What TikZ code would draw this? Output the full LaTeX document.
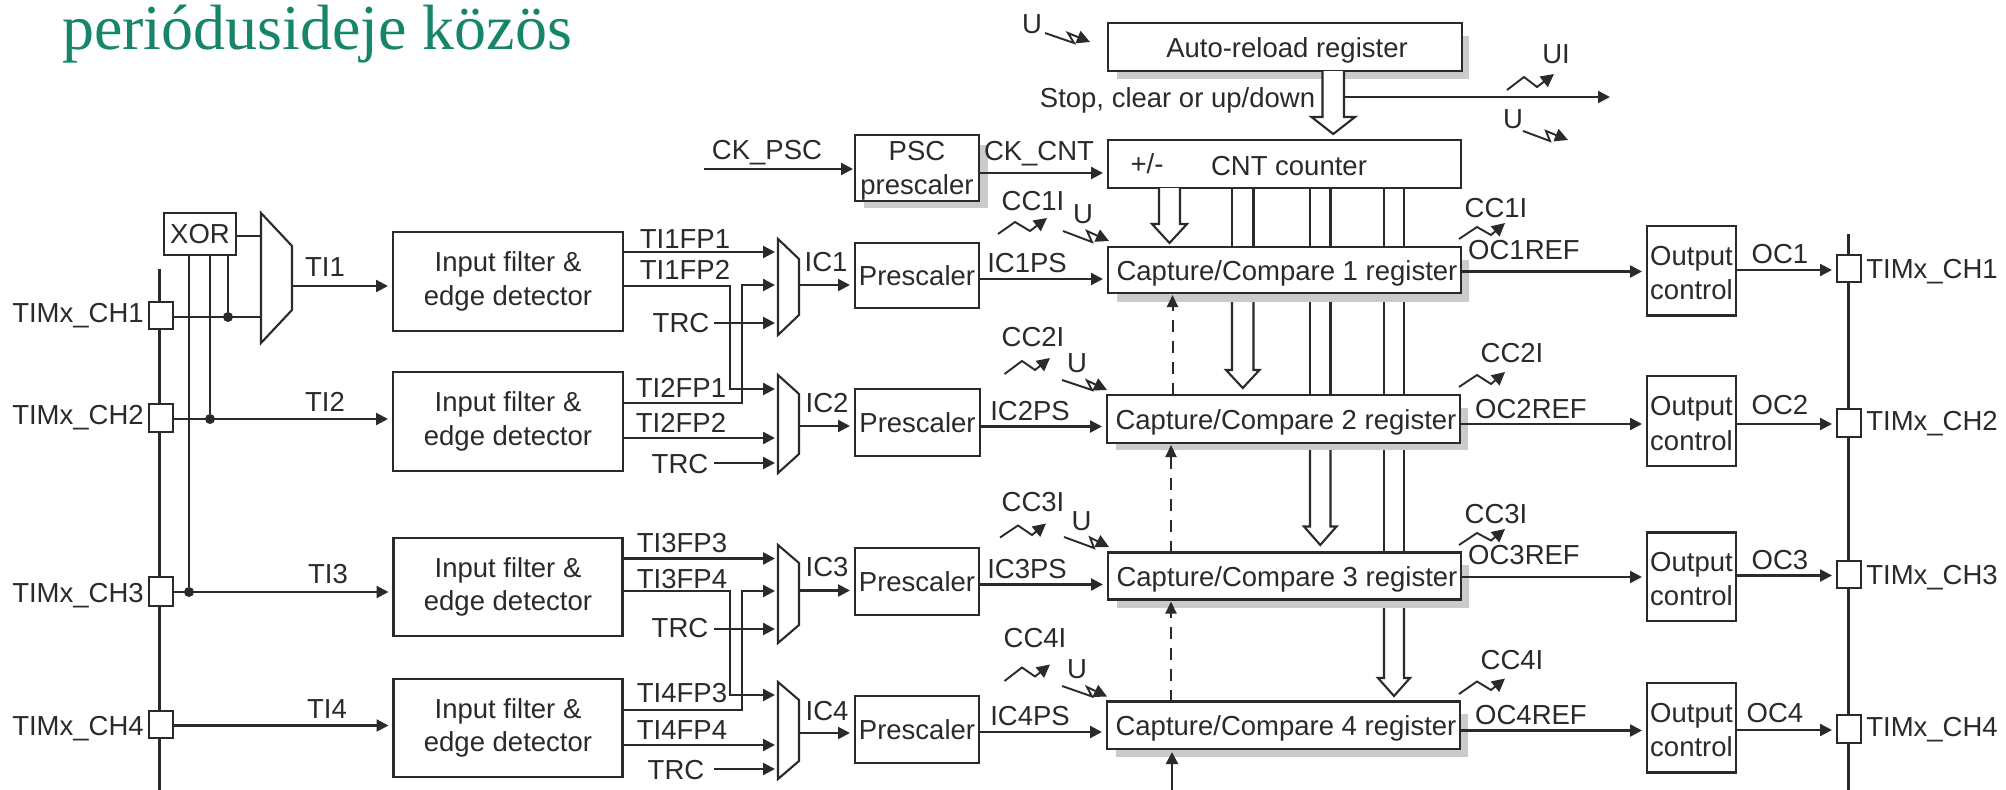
\documentclass[tikz,border=0pt]{standalone}
\usepackage{fontspec}
\setmainfont{Liberation Sans}
\newfontfamily\titlefont{Liberation Serif}
\usetikzlibrary{arrows.meta,calc}
\definecolor{ink}{HTML}{2A2A2A}
\definecolor{shade}{HTML}{CBCBCB}
\definecolor{titlegreen}{HTML}{16856A}
\tikzset{
  x=1pt,y=-1pt,
  every node/.style={font=\fontsize{27.5}{33.5}\selectfont,text=ink,inner sep=0pt,outer sep=0pt},
  box/.style={draw=ink,line width=2.6pt,fill=white,align=center},
  one/.style={text height=20pt,text depth=0pt},
  lab/.style={text height=20pt,text depth=0pt,anchor=center},
  wire/.style={draw=ink,line width=2.3pt,-{Triangle[length=12pt,width=12pt]},shorten >=5pt},
  muxin/.style={wire,shorten >=3pt},
  plain/.style={draw=ink,line width=2.1pt},
  hollow/.style={draw=ink,line width=2.1pt,fill=white,line join=miter},
  dashwire/.style={draw=ink,line width=2pt,dash pattern=on 12pt off 9pt,-{Triangle[length=12pt,width=11pt]},shorten >=2pt},
  spark/.style={draw=ink,line width=1.9pt,-{Triangle[length=13pt,width=13pt]}},
  dot/.style={circle,fill=ink,minimum size=10pt},
  shadowfill/.style={fill=shade,draw=none},
  ghost/.style={draw=none,fill=none}
}
\newcommand{\rbox}[7][]{\node[box,#1,minimum width={#5-#3},minimum height={#6-#4}] (#2) at ({(#3+#5)/2},{(#4+#6)/2}) {#7};}
\newcommand{\lab}[4]{\node[lab] (#1) at (#2,#3) {#4};}
\newcommand{\dn}[1]{\rule{0pt}{#1pt}}
\newcommand{\mux}[6]{% name x1 y1 x2 y2 slant
  \node[ghost,minimum width={#4-#2},minimum height={#5-#3}] (#1) at ({(#2+#4)/2},{(#3+#5)/2}) {};
  \draw[plain,line join=miter,fill=white] (#1.north west) -- ($(#1.north east)+(0,#6)$) -- ($(#1.south east)+(0,-#6)$) -- (#1.south west) -- cycle;}
% x1 x2 ystart yneck ytip wing
\newcommand{\harrow}[6]{\draw[hollow] (#1,#3) -- (#1,#4) -- ({#1-#6},#4) -- ({(#1+#2)/2},#5) -- ({#2+#6},#4) -- (#2,#4) -- (#2,#3);}
\begin{document}
\begin{tikzpicture}
\useasboundingbox (0,0) rectangle (2006,790);
\fill[white] (0,0) rectangle (2006,790);
\node[font=\titlefont\fontsize{64}{70}\selectfont,text=titlegreen,anchor=base west] (title) at (62,49) {periódusideje közös};

% shadows
\fill[shadowfill] (1117,36) rectangle (1469,79);
\fill[shadowfill] (864,145) rectangle (988,208);
\fill[shadowfill] (1117,260) rectangle (1469,302);
\fill[shadowfill] (1116,408) rectangle (1468,450);
\fill[shadowfill] (1117,565) rectangle (1469,608);
\fill[shadowfill] (1116,714) rectangle (1468,757);

% free ends and buses
\coordinate (busLtop) at (159.5,269);
\coordinate (busLbot) at (159.5,790);
\coordinate (busRtop) at (1848.5,234);
\coordinate (busRbot) at (1848.5,790);
\coordinate (ckin) at (704,169);
\coordinate (uiout) at (1615,97);
\coordinate (capin) at (1172,790);
\draw[plain] (busLtop) -- (busLbot);
\draw[plain] (busRtop) -- (busRbot);

% main boxes
\rbox[one]{arr}{1108}{23}{1462}{71}{\hspace*{4pt}Auto-reload register}
\rbox{cnt}{1108}{140}{1461}{188}{}
\rbox{psc}{855}{135}{979}{201}{\dn{25}PSC\\prescaler}
\rbox[one]{cc1}{1108}{247}{1461}{293}{\hspace*{5pt}Capture/Compare 1 register}
\rbox[one]{cc2}{1107}{395}{1460}{443}{\hspace*{5pt}Capture/Compare 2 register}
\rbox[one]{cc3}{1108}{552.5}{1461}{599.5}{\hspace*{5pt}Capture/Compare 3 register}
\rbox[one]{cc4}{1107}{701.5}{1460}{749}{\hspace*{5pt}Capture/Compare 4 register}
\lab{plusminus}{1147}{163}{+/-}
\lab{cntlabel}{1289}{165}{CNT counter}

\rbox{xor}{164}{213}{236}{255}{XOR}
\rbox{f1}{393}{232}{623}{331}{Input filter \&\\edge detector}
\rbox{f2}{393}{372}{623}{471}{Input filter \&\\edge detector}
\rbox{f3}{393.5}{538}{622.5}{636}{Input filter \&\\edge detector}
\rbox{f4}{393.5}{679}{622.5}{777}{Input filter \&\\edge detector}
\rbox[one]{p1}{855}{243}{979}{308}{Prescaler}
\rbox[one]{p2}{855}{389}{980}{456}{Prescaler}
\rbox[one]{p3}{855}{548}{979}{615}{Prescaler}
\rbox[one]{p4}{855}{696}{979}{763}{Prescaler}
\rbox{o1}{1647}{226}{1736}{315.5}{\dn{24}Output\\[1pt]control}
\rbox{o2}{1647}{376}{1736}{466}{\dn{24}Output\\[1pt]control}
\rbox{o3}{1647}{532.5}{1736}{621}{\dn{24}Output\\[1pt]control}
\rbox{o4}{1647}{683}{1736}{772.5}{\dn{24}Output\\[1pt]control}

% pads
\rbox{l1}{149}{302}{173}{329}{}
\rbox{l2}{149}{404}{173}{432}{}
\rbox{l3}{149}{577}{173}{606}{}
\rbox{l4}{149}{711}{173}{738}{}
\rbox{r1}{1837}{255}{1861}{282}{}
\rbox{r2}{1837}{409}{1861}{437}{}
\rbox{r3}{1837}{561}{1861}{588}{}
\rbox{r4}{1837}{715}{1861}{743}{}

% muxes
\mux{mx}{261}{213}{292}{343}{33}
\mux{m1}{778}{239}{799}{335}{20}
\mux{m2}{778}{375}{799}{473}{19}
\mux{m3}{778}{545}{799}{643}{18}
\mux{m4}{778}{682}{799}{779}{18}

% dots
\node[dot] (d1) at (228,317) {};
\node[dot] (d2) at (210,419) {};
\node[dot] (d3) at (189,592) {};

% XOR wiring
\draw[plain] (xor.south -| d3) -- (d3);
\draw[plain] (xor.south -| d2) -- (d2);
\draw[plain] (xor.south -| d1) -- (d1);
\draw[plain] (xor.east |- 0,236) -- (mx.west |- 0,236);
\draw[plain] (l1.east |- d1) -- (mx.west |- d1);
\draw[wire] (mx.east |- 0,286) -- (f1.west |- 0,286);
\draw[wire] (l2.east |- d2) -- (f2.west |- d2);
\draw[wire] (l3.east |- d3) -- (f3.west |- d3);
\draw[wire] (l4.east |- 0,725.5) -- (f4.west |- 0,725.5);

% filter to mux
\draw[muxin] (f1.east |- 0,252) -- (m1.west |- 0,252);
\draw[muxin] (f2.east |- 0,403) -- (742,403) -- (742,285) -- (m1.west |- 0,285);
\draw[muxin] (f1.east |- 0,286) -- (730,286) -- (730,389) -- (m2.west |- 0,389);
\draw[muxin] (f2.east |- 0,438) -- (m2.west |- 0,438);
\draw[muxin] (f3.east |- 0,558.5) -- (m3.west |- 0,558.5);
\draw[muxin] (f4.east |- 0,710) -- (742,710) -- (742,591) -- (m3.west |- 0,591);
\draw[muxin] (f3.east |- 0,591) -- (730,591) -- (730,695) -- (m4.west |- 0,695);
\draw[muxin] (f4.east |- 0,745) -- (m4.west |- 0,745);
\lab{trc1}{681}{322}{TRC}
\lab{trc2}{680}{463}{TRC}
\lab{trc3}{680}{627}{TRC}
\lab{trc4}{676}{769}{TRC}
\draw[muxin] (714,323) -- (m1.west |- 0,323);
\draw[muxin] (714,463) -- (m2.west |- 0,463);
\draw[muxin] (714,629) -- (m3.west |- 0,629);
\draw[muxin] (714,769) -- (m4.west |- 0,769);

% mux to prescaler to capture
\draw[wire] (m1.east |- 0,285) -- (p1.west |- 0,285);
\draw[wire] (m2.east |- 0,426) -- (p2.west |- 0,426);
\draw[wire] (m3.east |- 0,590.5) -- (p3.west |- 0,590.5);
\draw[wire] (m4.east |- 0,733) -- (p4.west |- 0,733);
\draw[wire] (p1.east |- 0,279) -- (cc1.west |- 0,279);
\draw[wire] (p2.east |- 0,426.5) -- (cc2.west |- 0,426.5);
\draw[wire] (p3.east |- 0,584.5) -- (cc3.west |- 0,584.5);
\draw[wire] (p4.east |- 0,732) -- (cc4.west |- 0,732);

% capture to output to pad
\draw[wire] (cc1.east |- 0,271.5) -- (o1.west |- 0,271.5);
\draw[wire] (cc2.east |- 0,424) -- (o2.west |- 0,424);
\draw[wire] (cc3.east |- 0,577) -- (o3.west |- 0,577);
\draw[wire] (cc4.east |- 0,730.5) -- (o4.west |- 0,730.5);
\draw[wire] (o1.east |- 0,270) -- (r1.west |- 0,270);
\draw[wire] (o2.east |- 0,424) -- (r2.west |- 0,424);
\draw[wire] (o3.east |- 0,575.5) -- (r3.west |- 0,575.5);
\draw[wire] (o4.east |- 0,730) -- (r4.west |- 0,730);

% clock
\draw[wire,shorten >=2pt] (ckin) -- (psc.west |- ckin);
\draw[wire] (psc.east |- 0,173) -- (cnt.west |- 0,173);

% update line
\draw[wire,shorten >=5pt] (1344,97) -- (uiout);

% hollow arrows and buses
\harrow{1322.5}{1344}{71}{117}{134}{11}
\harrow{1159}{1180}{188}{224}{243}{7}
\harrow{1232}{1253.5}{302}{370}{388}{6}
\harrow{1310}{1330.5}{450}{526.5}{545}{6}
\harrow{1384}{1404}{608}{678}{696}{6}
\foreach \xa in {1232,1253.5}{\draw[plain] (cnt.south -| \xa,0) -- (cc1.north -| \xa,0);}
\foreach \xa in {1310,1330.5}{
  \draw[plain] (cnt.south -| \xa,0) -- (cc1.north -| \xa,0);
  \draw[plain] (\xa,302) -- (cc2.north -| \xa,0);}
\foreach \xa in {1384,1404}{
  \draw[plain] (cnt.south -| \xa,0) -- (cc1.north -| \xa,0);
  \draw[plain] (\xa,302) -- (cc2.north -| \xa,0);
  \draw[plain] (\xa,450) -- (cc3.north -| \xa,0);}

% dashed
\draw[dashwire] (cc2.north -| 1172.5,0) -- (cc1.south -| 1172.5,0);
\draw[dashwire] (cc3.north -| 1171,0) -- (cc2.south -| 1171,0);
\draw[dashwire] (cc4.north -| 1171,0) -- (cc3.south -| 1171,0);
\draw[wire,shorten >=3pt] (capin) -- (cc4.south -| capin);

% sparks
\draw[spark] (1045,33) -- (1074,43) -- (1068,33) -- (1090,42);
\draw[spark] (998,234) -- (1015,222) -- (1030,231) -- (1047,218);
\draw[spark] (1063,231) -- (1092,242) -- (1087,231) -- (1109,241);
\draw[spark] (1004.5,374) -- (1022,361) -- (1035,370) -- (1050,358);
\draw[spark] (1062,380) -- (1092,390) -- (1087,380.5) -- (1107,390);
\draw[spark] (1000,537.5) -- (1018,525.5) -- (1032,535) -- (1046,523.5);
\draw[spark] (1064,537) -- (1094,548) -- (1090,537.5) -- (1109,547);
\draw[spark] (1004.5,681) -- (1022,667.5) -- (1035,676.5) -- (1050,664.5);
\draw[spark] (1062,686) -- (1092,696.5) -- (1087,687) -- (1107,696.5);
\draw[spark] (1459,239) -- (1477,227) -- (1491,235) -- (1505,223);
\draw[spark] (1459,387) -- (1477,375) -- (1491,384) -- (1505,372);
\draw[spark] (1459,545) -- (1477,533) -- (1491,540.5) -- (1505,529);
\draw[spark] (1459,694) -- (1477,681.5) -- (1491,690) -- (1505,678.5);
\draw[spark] (1507,90) -- (1524,77) -- (1537,87) -- (1554,74);
\draw[spark] (1523,131) -- (1550,141) -- (1546,131) -- (1568,140);

% labels
\lab{ttop}{1032}{23}{U}
\lab{stop}{1177.5}{97}{Stop, clear or up/down}
\lab{uil}{1556}{53}{UI}
\lab{utr}{1513}{118}{U}
\lab{ckpsc}{767}{149}{CK\_PSC}
\lab{ckcnt}{1039}{150}{CK\_CNT}
\lab{tl1}{78}{312}{TIMx\_CH1}
\lab{tl2}{78}{414}{TIMx\_CH2}
\lab{tl3}{78}{592}{TIMx\_CH3}
\lab{tl4}{78}{725}{TIMx\_CH4}
\lab{ti1}{325}{266}{TI1}
\lab{ti2}{325}{401}{TI2}
\lab{ti3}{328}{573}{TI3}
\lab{ti4}{327}{708}{TI4}
\lab{fp11}{685}{238}{TI1FP1}
\lab{fp12}{685}{269}{TI1FP2}
\lab{fp21}{681}{387}{TI2FP1}
\lab{fp22}{681}{422}{TI2FP2}
\lab{fp33}{682}{542}{TI3FP3}
\lab{fp34}{682}{578}{TI3FP4}
\lab{fp43}{682}{692}{TI4FP3}
\lab{fp44}{682}{729}{TI4FP4}
\lab{ic1}{826}{261}{IC1}
\lab{ic2}{827}{402}{IC2}
\lab{ic3}{827}{566}{IC3}
\lab{ic4}{827}{710}{IC4}
\lab{ps1}{1027}{262}{IC1PS}
\lab{ps2}{1030}{410}{IC2PS}
\lab{ps3}{1027}{568}{IC3PS}
\lab{ps4}{1030}{715}{IC4PS}
\lab{cl1}{1033}{200}{CC1I}
\lab{cl2}{1033}{336}{CC2I}
\lab{cl3}{1033}{501}{CC3I}
\lab{cl4}{1035}{637.5}{CC4I}
\lab{ul1}{1083}{213}{U}
\lab{ul2}{1077}{362}{U}
\lab{ul3}{1081.5}{520}{U}
\lab{ul4}{1077}{668}{U}
\lab{cr1}{1496}{207.5}{CC1I}
\lab{cr2}{1512}{352}{CC2I}
\lab{cr3}{1496}{513}{CC3I}
\lab{cr4}{1512}{659}{CC4I}
\lab{ref1}{1524}{249}{OC1REF}
\lab{ref2}{1531}{408}{OC2REF}
\lab{ref3}{1524}{554}{OC3REF}
\lab{ref4}{1531}{714}{OC4REF}
\lab{oc1}{1780}{253}{OC1}
\lab{oc2}{1780}{404}{OC2}
\lab{oc3}{1780}{559}{OC3}
\lab{oc4}{1775}{712}{OC4}
\lab{tr1}{1932}{268}{TIMx\_CH1}
\lab{tr2}{1932}{420}{TIMx\_CH2}
\lab{tr3}{1932}{574}{TIMx\_CH3}
\lab{tr4}{1932}{726}{TIMx\_CH4}
\end{tikzpicture}
\end{document}
